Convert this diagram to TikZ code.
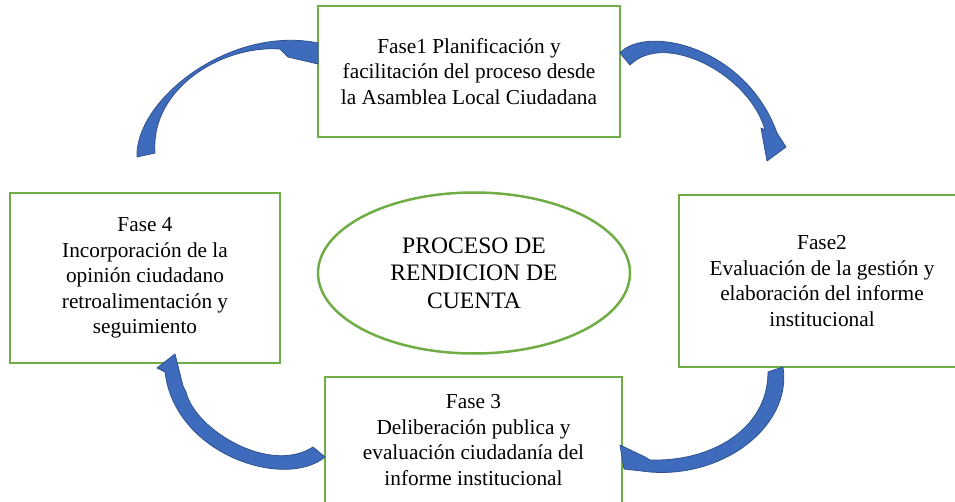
\documentclass[tikz,border=0pt]{standalone}
\usepackage{fontspec}
\setmainfont{Liberation Serif}
\usetikzlibrary{shapes.geometric}
\definecolor{boxgreen}{HTML}{70AD47}
\definecolor{arrfill}{HTML}{3F6BBD}
\definecolor{arrline}{HTML}{2F528F}
\tikzset{
  phase/.style={draw=boxgreen, line width=2.5pt, fill=white, align=center,
    font=\fontsize{21.3}{25.5}\selectfont, inner sep=0pt},
  hubellipse/.style={ellipse, draw=boxgreen, line width=2.5pt, align=center,
    font=\fontsize{23.6}{27.5}\selectfont, inner sep=0pt},
  blockarrow/.style={fill=arrfill, draw=arrline, line width=0.8pt, line join=round},
}
\begin{document}
\begin{tikzpicture}[x=1pt,y=-1pt]
\useasboundingbox (0,0) rectangle (955,502);
\clip (0,0) rectangle (955,502);

\node[phase, minimum width=302pt, minimum height=131pt] (f1) at (469,71.5)
  {Fase1 Planificación y\\facilitación del proceso desde\\la Asamblea Local Ciudadana};
\node[phase, minimum width=270pt, minimum height=170pt] (f4) at (145,278)
  {Fase 4\\Incorporación de la\\opinión ciudadano\\retroalimentación y\\seguimiento};
\node[phase, minimum width=286pt, minimum height=172pt] (f2) at (822,281)
  {Fase2\\Evaluación de la gestión y\\elaboración del informe\\institucional};
\node[phase, minimum width=297pt, minimum height=126pt] (f3) at (473.5,440)
  {Fase 3\\Deliberación publica y\\evaluación ciudadanía del\\informe institucional};
\node[hubellipse, minimum width=312pt, minimum height=161pt] (hub) at (474,273)
  {PROCESO DE\\RENDICION DE\\CUENTA};

% Fase 4 -> Fase 1
\draw[blockarrow] (137,157) .. controls (135,100) and (230,25) .. (318,43)
  -- (318,64) -- (288,57) -- (280,49)
  .. controls (220,45) and (150,90) .. (155,153) -- cycle;

% Fase 1 -> Fase 2
\draw[blockarrow] (620,53) .. controls (645,25) and (745,45) .. (777,133)
  -- (786,147) -- (767,161) -- (761,128) -- (765,130)
  .. controls (750,75) and (665,30) .. (630,65) -- cycle;

% Fase 2 -> Fase 3
\draw[blockarrow] (783,367) .. controls (792,425) and (725,478) .. (650,472)
  -- (624,469) -- (620,445) -- (645,457) -- (650,460)
  .. controls (710,462) and (768,430) .. (768,372) -- cycle;

% Fase 3 -> Fase 4
\draw[blockarrow] (325,457) .. controls (285,490) and (175,455) .. (165,372)
  -- (157,368) -- (175,354) -- (183,386) -- (186,392)
  .. controls (195,430) and (270,475) .. (313,447) -- cycle;
\end{tikzpicture}
\end{document}
